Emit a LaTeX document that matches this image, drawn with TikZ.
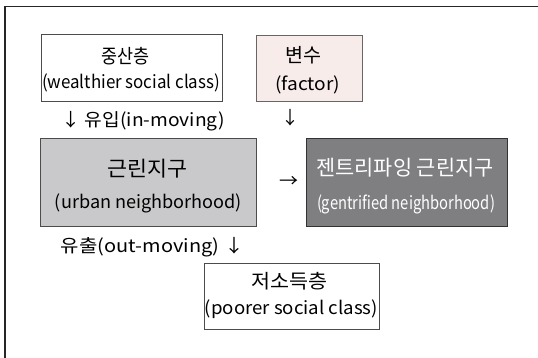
\documentclass[tikz,border=0pt]{standalone}
\usepackage{fontspec}
\setmainfont{Noto Sans CJK KR}
\usepackage{graphicx}
\newcommand{\fw}[2]{\resizebox{#1pt}{\height}{#2}}
\definecolor{pinkfill}{HTML}{F7ECEA}
\definecolor{lightgrayfill}{HTML}{C9C9CB}
\definecolor{darkgrayfill}{HTML}{7F7F82}
\begin{document}
\begin{tikzpicture}[x=1pt,y=-1pt,
  box/.style={draw=#1, line width=0.9pt, inner sep=0pt, outer sep=0pt},
  txt/.style={inner sep=0pt, font=\fontsize{18}{21}\selectfont},
  kortxt/.style={inner sep=0pt, font=\fontsize{19.5}{22}\selectfont},
  bigtxt/.style={inner sep=0pt, font=\fontsize{21}{24}\selectfont},
]
\useasboundingbox (0,0) rectangle (538,357);
\draw[line width=1.4pt, color=black!85] (5,358) -- (5,6.5) -- (539,6.5);

% boxes
\node[box=black!70, fill=white, minimum width=181.2pt, minimum height=67.7pt] (b1) at (132.1,67.85) {};
\node[box=black!60, fill=pinkfill, minimum width=106pt, minimum height=66.5pt] (b2) at (309,68.25) {};
\node[box=black!70, fill=lightgrayfill, minimum width=216.1pt, minimum height=88.7pt] (b3) at (148.55,182.35) {};
\node[box=black!80, fill=darkgrayfill, minimum width=201pt, minimum height=88.7pt] (b4) at (406.5,182.35) {};
\node[box=black!70, fill=white, minimum width=175pt, minimum height=66.5pt] (b5) at (291.5,296.25) {};

% texts
\node[kortxt] (t1a) at (125,56) {\fw{48}{중산층}};
\node[txt] (t1b) at (131,83) {\fw{178}{(wealthier social class)}};
\node[kortxt] (t2a) at (303,55) {\fw{36}{변수}};
\node[txt] (t2b) at (307.5,85) {\fw{65}{(factor)}};
\node[txt] (in) at (143,121) {\fw{163}{↓ 유입(in-moving)}};
\node[txt] (fa) at (290,118) {↓};
\node[bigtxt] (t3a) at (147.5,168.5) {\fw{80}{근린지구}};
\node[txt] (t3b) at (148.5,203) {\fw{187}{(urban neighborhood)}};
\node[txt] (ar) at (289,182) {\fw{19}{→}};
\node[bigtxt, text=white] (t4a) at (405,168) {\fw{177}{젠트리파잉 근린지구}};
\node[txt, text=white] (t4b) at (406,204) {\fw{178}{(gentrified neighborhood)}};
\node[txt] (out) at (152.5,247.5) {\fw{183}{유출(out-moving) ↓}};
\node[kortxt] (t5a) at (289.5,281.7) {\fw{76}{저소득층}};
\node[txt] (t5b) at (291.5,309) {\fw{173}{(poorer social class)}};
\end{tikzpicture}
\end{document}
